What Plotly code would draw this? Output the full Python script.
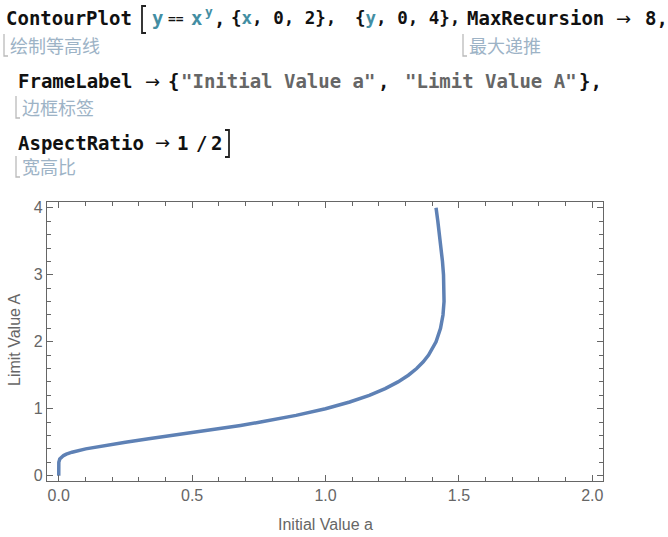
import plotly.graph_objects as go

# ---- data (contour y == x^y) ----
initial_a = [0.0, 0.0, 0.0, 0.0003, 0.0039, 0.0106, 0.0181, 0.0284, 0.0498, 0.1012,
             0.1696, 0.25, 0.3372, 0.4268, 0.5154, 0.6008, 0.6814, 0.7566, 0.8895,
             1.0, 1.0905, 1.1641, 1.2236, 1.2717, 1.3104, 1.3415, 1.3663, 1.3862,
             1.4019, 1.4142, 1.4310, 1.4402, 1.4442, 1.4445, 1.4422, 1.4383, 1.4332,
             1.4274, 1.4209, 1.4142]
limit_A = [0.0, 0.1, 0.15, 0.2, 0.25, 0.28, 0.3, 0.32, 0.35, 0.4,
           0.45, 0.5, 0.55, 0.6, 0.65, 0.7, 0.75, 0.8, 0.9,
           1.0, 1.1, 1.2, 1.3, 1.4, 1.5, 1.6, 1.7, 1.8,
           1.9, 2.0, 2.2, 2.4, 2.6, 2.8, 3.0, 3.2, 3.4,
           3.6, 3.8, 4.0]
x_ticks = [0, 0.5, 1.0, 1.5, 2.0]
x_tick_labels = ["0.0", "0.5", "1.0", "1.5", "2.0"]
y_ticks = [0, 1, 2, 3, 4]
y_tick_labels = ["0", "1", "2", "3", "4"]

W, H = 668, 537
L, R, T, B = 47, 603, 202, 481


def px(x):
    return (x - L) / (R - L)


def py(y):
    return (B - y) / (B - T)


fig = go.Figure()
fig.add_trace(go.Scatter(x=initial_a, y=limit_A, mode="lines",
                         line=dict(color="#5E81B5", width=3.5),
                         hoverinfo="skip", showlegend=False))

FRAME = "#666666"
axis_common = dict(showgrid=False, zeroline=False, showline=True, linecolor=FRAME,
                   linewidth=1.2, mirror="allticks", ticks="inside", ticklen=6,
                   tickcolor=FRAME, tickwidth=1.2,
                   tickfont=dict(family="Liberation Sans", size=16, color="#666666"))

fig.update_xaxes(range=[-0.044, 2.04], tickvals=x_ticks, ticktext=x_tick_labels,
                 minor=dict(ticks="inside", dtick=0.1, tick0=0, ticklen=3.5,
                            tickcolor=FRAME, tickwidth=1.2, showgrid=False),
                 **axis_common)
fig.update_yaxes(range=[-0.08, 4.087], tickvals=y_ticks, ticktext=y_tick_labels,
                 minor=dict(ticks="inside", dtick=0.2, tick0=0, ticklen=3.5,
                            tickcolor=FRAME, tickwidth=1.2, showgrid=False),
                 **axis_common)

annotations = []
shapes = []

MONO = "DejaVu Sans Mono"
BLACK = "#111111"
TEAL = "#438EA3"
STRG = "#666666"
CJK = "#9DB3C6"


def code(x, y, text, color=BLACK, size=19, bold=True, family=MONO):
    annotations.append(dict(xref="paper", yref="paper", x=px(x), y=py(y), text=text,
                            showarrow=False, xanchor="left", yanchor="middle",
                            font=dict(family=family, size=size, color=color,
                                      weight="bold" if bold else "normal")))


def arrow(x, y):
    code(x, y, "→", BLACK, size=18, bold=False, family="DejaVu Sans")


def note(x, y, text, y0, y1):
    annotations.append(dict(xref="paper", yref="paper", x=px(x), y=py(y), text=text,
                            showarrow=False, xanchor="left", yanchor="middle",
                            font=dict(family="Noto Sans CJK SC", size=18, color=CJK)))
    bx = x - 4
    shapes.append(dict(type="path", xref="paper", yref="paper",
                       path=f"M {px(bx)},{py(y0)} L {px(bx)},{py(y1)} L {px(bx + 4)},{py(y1)}",
                       line=dict(color="#BBBBBB", width=1.3)))


def bracket(x, y0, y1, opening=True):
    d = 4 if opening else -4
    shapes.append(dict(type="path", xref="paper", yref="paper",
                       path=(f"M {px(x + d)},{py(y0)} L {px(x)},{py(y0)} "
                             f"L {px(x)},{py(y1)} L {px(x + d)},{py(y1)}"),
                       line=dict(color="#222222", width=1.8)))


# line 1
code(4, 18, "ContourPlot")
bracket(142, 6, 33, True)
code(150, 18, "y", TEAL)
code(166, 19, "==", BLACK, size=13)
code(189, 18, "x", TEAL)
code(203, 11, "y", TEAL, size=13)
code(212, 18, ",")
code(229, 18, f"{{<span style='color:{TEAL}'>x</span>, 0, 2}},", size=17.5)
code(353, 18, f"{{<span style='color:{TEAL}'>y</span>, 0, 4}},", size=17.5)
code(465, 18, "MaxRecursion")
arrow(614, 18)
code(643, 18, "8,")
note(8, 45, "绘制等高线", 34, 56)
note(467, 45, "最大递推", 34, 56)

# line 2
code(16, 81, "FrameLabel")
arrow(143, 81)
code(166, 81, "{")
code(179, 81, "\"Initial Value a\"", STRG)
code(376, 81, ",")
code(403, 81, "\"Limit Value A\"", STRG)
code(577, 81, "},")
note(20, 107, "边框标签", 96, 118)

# line 3
code(16, 143, "AspectRatio")
arrow(153, 143)
code(175, 143, "1")
code(194, 143, "/")
code(209, 143, "2")
bracket(229, 130, 157, False)
note(20, 166, "宽高比", 156, 177)

# frame labels
annotations.append(dict(xref="paper", yref="paper", x=px(325), y=py(524),
                        text="Initial Value a", showarrow=False,
                        xanchor="center", yanchor="middle",
                        font=dict(family="Liberation Sans", size=16, color="#666666")))
annotations.append(dict(xref="paper", yref="paper", x=px(14), y=py(340),
                        text="Limit Value A", showarrow=False, textangle=-90,
                        xanchor="center", yanchor="middle",
                        font=dict(family="Liberation Sans", size=16, color="#666666")))

fig.update_layout(width=W, height=H, margin=dict(l=L, r=W - R, t=T, b=H - B),
                  paper_bgcolor="white", plot_bgcolor="white",
                  annotations=annotations, shapes=shapes, showlegend=False)

fig.write_html("out.html", config={"displayModeBar": False},
               post_script="document.body.style.margin='0';document.body.style.overflow='hidden';")
